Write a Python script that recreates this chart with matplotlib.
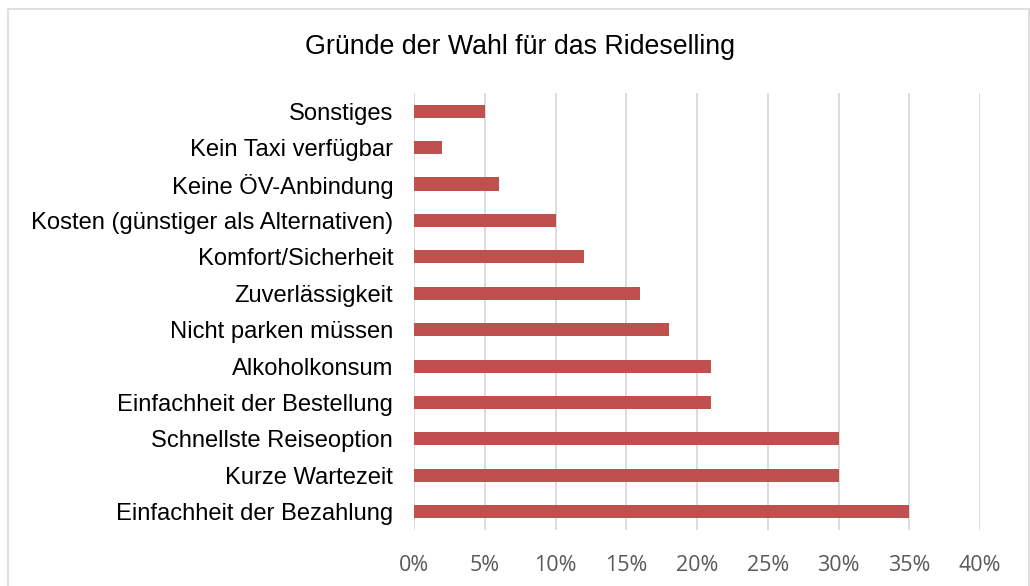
import numpy as np
import matplotlib
matplotlib.use("Agg")
import matplotlib.pyplot as plt
from matplotlib.ticker import PercentFormatter

# data, bottom to top as in the chart
reasons = ['Einfachheit der Bezahlung', 'Kurze Wartezeit', 'Schnellste Reiseoption',
           'Einfachheit der Bestellung', 'Alkoholkonsum', 'Nicht parken müssen',
           'Zuverlässigkeit', 'Komfort/Sicherheit', 'Kosten (günstiger als Alternativen)',
           'Keine ÖV-Anbindung', 'Kein Taxi verfügbar', 'Sonstiges']
shares = [35, 30, 30, 21, 21, 18, 16, 12, 10, 6, 2, 5]
xticks = [0, 5, 10, 15, 20, 25, 30, 35, 40]

fig = plt.figure(figsize=(10.3, 5.86), dpi=100)
ax = fig.add_axes([0.402, 0.0956, 0.5495, 0.7457])

y = np.arange(len(reasons))
ax.barh(y, shares, height=0.36, color='#C0504D', zorder=3)

ax.set_xlim(0, 40)
ax.set_ylim(-0.5, len(reasons) - 0.5)
ax.set_xticks(xticks)
ax.xaxis.set_major_formatter(PercentFormatter(decimals=0))
ax.grid(axis='x', color='#D9D9D9', linewidth=1.3, zorder=0)
ax.set_yticks(y)
ax.set_yticklabels(reasons, fontsize=17.1, family='Liberation Sans', color='black')
for lbl in ax.get_xticklabels():
    lbl.set_fontsize(15.5)
    lbl.set_family('Open Sans')
    lbl.set_color('#595959')
ax.tick_params(axis='both', length=0)
ax.tick_params(axis='x', pad=18)
ax.tick_params(axis='y', pad=15)
for s in ax.spines.values():
    s.set_visible(False)

fig.text(0.5049, 0.92, 'Gründe der Wahl für das Rideselling', ha='center', va='center',
         fontsize=19.3, family='Liberation Sans')

# light border round the chart area
fig.patches.append(plt.Rectangle((8 / 1030, -0.01), 1021 / 1030, 1.01 - 9 / 586,
                                 transform=fig.transFigure, fill=False,
                                 edgecolor='#D9D9D9', linewidth=1.2))

fig.savefig('out.png', dpi=100)
